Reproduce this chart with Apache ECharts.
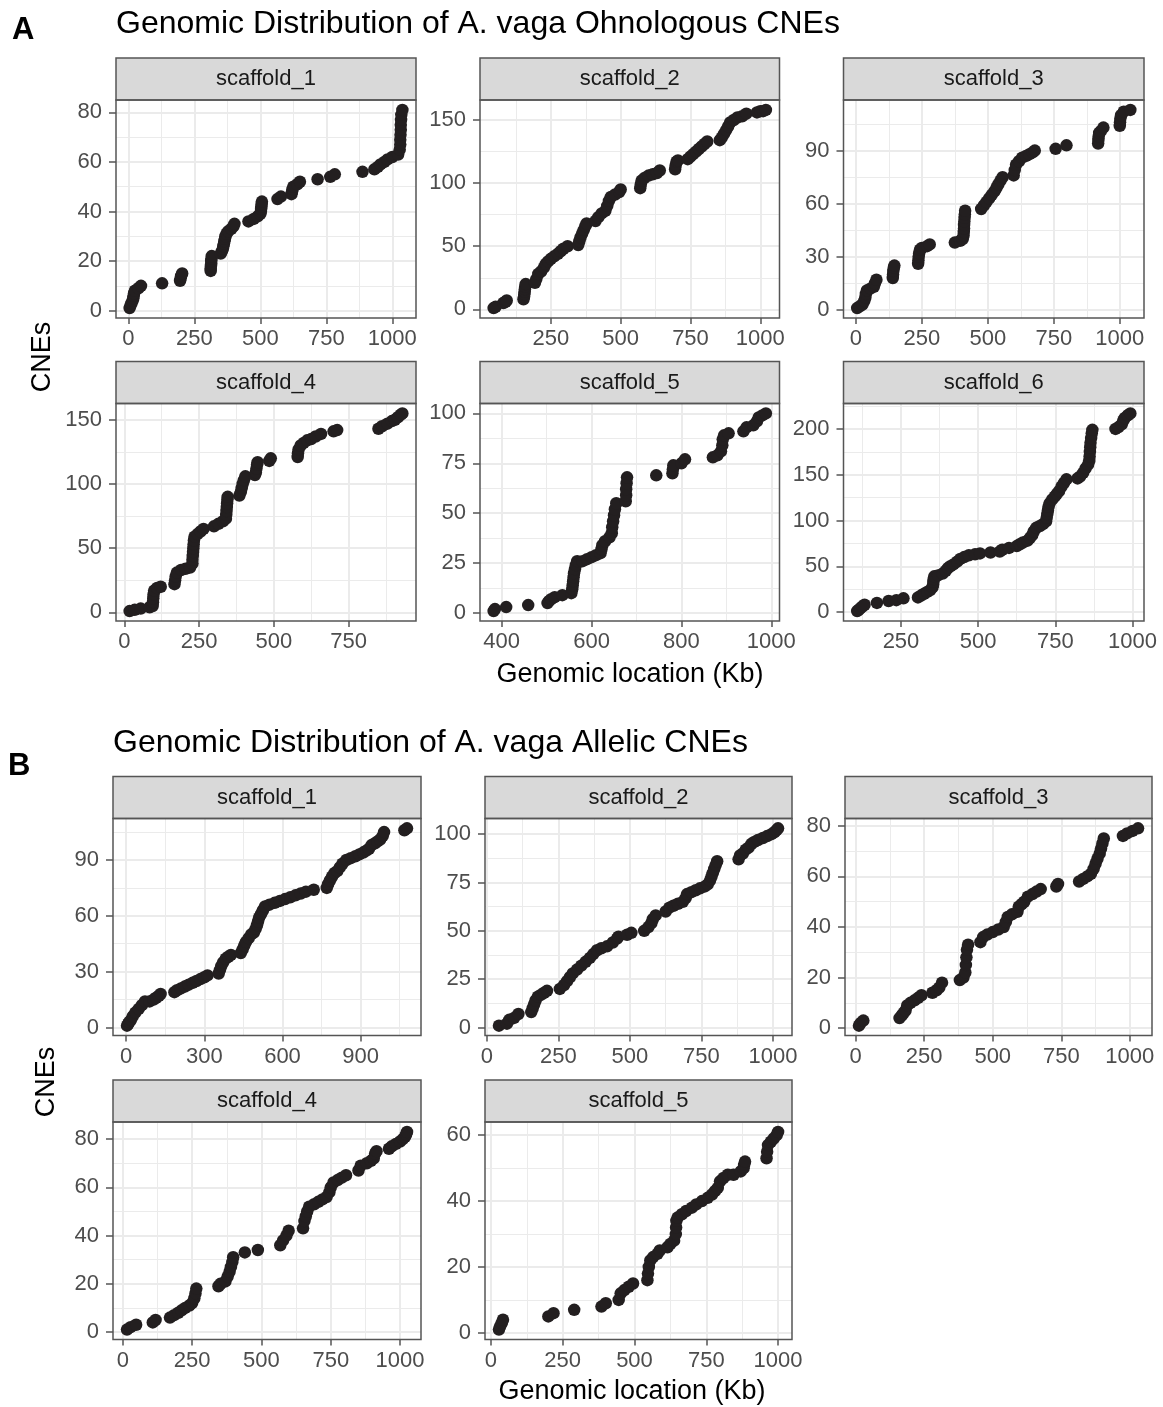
<!DOCTYPE html>
<html><head><meta charset="utf-8">
<script src="https://cdn.jsdelivr.net/npm/echarts@6/dist/echarts.min.js"></script>
<style>html,body{margin:0;padding:0;background:#fff}#c{width:1163px;height:1407px}</style>
</head><body><div id="c"></div>
<script>
// ---------------- DATA ----------------
const titleA = 'Genomic Distribution of A. vaga Ohnologous CNEs';
const titleB = 'Genomic Distribution of A. vaga Allelic CNEs';
const xTitle = 'Genomic location (Kb)';
const yTitle = 'CNEs';
const stripA = ['scaffold_1','scaffold_2','scaffold_3','scaffold_4','scaffold_5','scaffold_6'];
const stripB = ['scaffold_1','scaffold_2','scaffold_3','scaffold_4','scaffold_5'];

// [genomic location (Kb), cumulative CNE count]
const A_s1 = [[5,1],[8,2],[12,3],[16,4],[19,5],[20,6],[22,7],[25,8],[38,9],[48,10],
[128,11],[196,12],[198,13],[200,14],[204,15],
[312,16],[312,17],[313,18],[314,19],[314,20],[315,21],[316,22],
[350,23],[355,24],[358,25],[360,26],[362,27],[364,28],[366,29],[368,30],[372,31],[378,32],[390,33],[398,34],[402,35],
[455,36],[475,37],[490,38],[500,39],[502,40],[503,41],[504,42],[505,43],[506,44],
[565,45],[578,46],[618,47],[620,48],[622,49],[625,50],[640,51],[650,52],
[717,53],[765,54],[782,55],[887,56],
[932,57],[945,58],[955,59],[970,60],[982,61],[1000,62],
[1022,63],[1028,65],[1030,67],[1030,69],[1031,71],[1032,73],[1032,75],[1033,77],[1034,79],[1038,81]];
const A_s2 = [[45,1],[52,2],[80,5],[88,6],[92,7],
[152,8],[154,10],[155,12],[156,14],[157,16],[158,18],[160,20],
[193,21],[198,24],[205,28],[215,30],[225,33],[232,36],[240,38],[250,40],[262,42],[275,44],[285,46],[295,48],[310,50],
[348,51],[352,54],[356,57],[362,60],[368,63],[374,66],[378,68],
[410,70],[420,73],[432,76],[445,78],[452,82],[458,86],[465,89],[480,91],[495,93],[500,95],
[570,96],[572,99],[575,102],[585,104],[600,106],[615,107],[630,108],[640,110],
[695,111],[697,114],[700,117],[705,118],
[740,119],[750,121],[760,123],[770,125],[780,127],[790,129],[800,131],[810,133],
[855,134],[862,136],[870,139],[878,142],[885,145],[892,148],[905,150],[918,152],[935,153],[950,155],
[988,156],[1000,157],[1010,157],[1020,158]];
const A_s3 = [[5,1],[15,2],[25,3],[32,5],[36,7],[38,9],[42,11],[55,12],[68,13],[72,15],[78,17],
[140,18],[141,20],[142,22],[144,24],[146,25],
[236,26],[237,28],[238,30],[240,32],[243,34],[250,35],[270,36],[280,37],
[375,38],[395,39],[405,40],[408,42],[409,44],[410,46],[410,48],[411,50],[412,52],[413,54],[414,56],
[475,57],[485,59],[495,61],[505,63],[515,65],[525,67],[533,69],[540,71],[548,73],[556,75],
[598,76],[602,79],[607,82],[618,84],[630,86],[645,87],[658,88],[670,89],[678,90],
[757,91],[798,93],
[918,94],[919,96],[920,98],[922,100],[928,101],[938,103],
[1000,104],[1001,106],[1002,108],[1005,110],[1015,112],[1040,113]];
const A_s4 = [[18,1],[35,2],[55,3],[85,4],[95,5],[96,8],[97,11],[98,14],[100,17],[110,19],[122,20],
[168,22],[170,25],[172,28],[176,31],[190,33],[205,34],[220,35],[228,38],
[228,41],[229,44],[230,47],[231,50],[232,53],[233,56],[235,59],[245,61],[255,63],[265,65],
[300,67],[315,69],[330,71],[340,73],[341,76],[342,79],[343,82],[344,85],[345,88],[346,90],
[385,91],[390,94],[393,97],[396,100],[400,103],[405,106],
[437,107],[440,109],[442,112],[444,115],[446,117],[485,118],[490,120],
[580,121],[581,124],[583,127],[590,130],[600,132],[612,134],[625,135],[640,137],[658,139],
[700,141],[712,142],
[850,143],[862,145],[880,147],[895,149],[905,150],[915,152],[925,154],[930,155]];
const A_s5 = [[382,1],[385,2],[410,3],[459,4],[502,5],[505,6],[510,7],[518,8],[535,9],
[555,10],[557,12],[558,14],[559,16],[560,18],[561,20],[563,22],[565,24],[568,26],
[580,26],[590,27],[600,28],[610,29],
[620,30],[622,32],[624,34],[630,36],[640,38],
[645,40],[646,43],[648,46],[650,49],[652,52],[655,55],
[676,56],[677,59],[677,62],[678,65],[679,68],
[744,69],[780,70],[781,72],[782,74],[800,75],[808,77],
[870,78],[880,79],[888,81],[891,84],[892,87],[895,89],[905,90],
[938,91],[945,93],[960,94],[968,96],[972,98],[980,99],[988,100]];
const A_s6 = [[108,1],[112,2],[118,4],[125,6],[132,8],[172,10],[210,12],[235,13],[258,15],
[305,16],[315,18],[325,20],[335,22],[345,24],[352,27],[354,30],[355,33],[356,36],[358,39],
[370,40],[385,42],[395,45],[402,48],[410,50],[420,52],[432,55],[442,58],[455,60],[470,62],[490,63],[506,64],
[540,65],[570,66],[578,68],[600,70],[625,72],[635,74],[645,76],
[660,78],[668,81],[675,84],[680,88],[688,92],[700,94],[710,96],[720,99],[722,103],[724,107],[726,111],[728,115],[732,119],[740,123],[748,126],[755,129],[762,132],[770,137],[778,141],[786,145],
[822,146],[830,148],[840,152],[848,157],[856,161],[860,165],[861,170],[862,175],[863,180],[864,185],[866,190],[868,195],[870,199],
[945,200],[955,202],[965,205],[970,209],[975,212],[985,215],[993,217]];

const B_s1 = [[3,1],[8,2],[12,3],[18,4],[25,6],[35,8],[48,10],[60,12],[72,14],[90,14],[105,15],[115,16],[125,17],[132,18],
[185,19],[195,20],[210,21],[225,22],[240,23],[255,24],[270,25],[285,26],[300,27],[312,28],
[355,29],[360,31],[365,33],[372,35],[382,37],[392,38],[402,39],
[440,40],[447,42],[453,44],[460,46],[470,48],[480,50],[490,51],[497,53],[502,55],[506,57],[510,59],[518,61],[525,63],[533,65],[550,66],
[570,67],[590,68],[610,69],[630,70],[650,71],[670,72],[690,73],[720,74],
[770,75],[775,77],[782,79],[790,81],[800,83],[810,84],[820,86],[830,88],[845,90],[862,91],[880,92],[895,93],[910,94],[922,95],[932,96],[942,98],[955,99],[965,100],[975,101],[985,103],[990,105],
[1068,106],[1078,107]];
const B_s2 = [[42,1],[70,2],[78,4],[95,5],[110,7],
[155,8],[160,10],[165,12],[170,14],[178,16],[190,17],[200,18],[210,19],
[255,20],[270,22],[280,24],[290,26],[300,28],[315,30],[330,32],[345,34],[360,36],[372,38],[385,40],[400,41],[420,42],[440,44],[455,46],[460,47],
[490,48],[505,49],[550,50],[565,52],[575,54],[580,56],[590,58],
[625,60],[638,62],[652,63],[668,64],[685,65],[695,67],[700,69],[715,70],[730,71],[745,72],[762,73],
[772,74],[780,76],[785,78],[790,80],[795,82],[800,84],[805,86],
[880,87],[885,89],[895,90],[905,92],[915,93],[925,95],[935,96],[948,97],[965,98],[980,99],[995,100],[1005,101],[1012,102],[1018,103]];
const B_s3 = [[12,1],[18,2],[28,3],
[160,4],[168,5],[175,6],[182,7],[188,9],[200,10],[215,11],[228,12],[240,13],
[280,14],[295,15],[305,16],[315,18],
[380,19],[393,20],[400,22],[402,25],[404,28],[406,31],[410,33],
[455,34],[465,36],[480,37],[500,38],[520,39],[540,40],[548,42],[555,44],[570,45],[590,46],[595,48],[605,49],[615,50],[628,52],[645,53],[660,54],[675,55],
[732,56],[738,57],
[815,58],[830,59],[845,60],[858,61],[868,63],[875,65],[882,67],[890,69],[895,71],[900,73],[905,75],
[975,76],[990,77],[1010,78],[1030,79]];
const B_s4 = [[15,1],[28,2],[48,3],[108,4],[118,5],
[170,6],[185,7],[200,8],[212,9],[225,10],[240,11],[250,12],[258,14],[262,16],[265,18],
[345,19],[352,20],[370,21],[378,23],[385,25],[390,27],[395,29],[398,31],
[440,33],[487,34],
[568,36],[578,38],[590,40],[598,42],
[650,43],[655,46],[660,48],[665,50],[672,52],[690,53],[705,54],[720,55],[735,56],[745,58],[750,60],[760,62],[775,63],[790,64],[805,65],
[850,67],[858,69],[880,70],[895,71],[905,72],[910,74],[915,75],
[960,76],[970,77],[985,78],[1000,79],[1010,80],[1018,81],[1022,82],[1025,83]];
const B_s5 = [[28,1],[32,2],[38,3],[42,4],
[200,5],[218,6],[290,7],[385,8],[400,9],
[445,10],[452,12],[465,13],[480,14],[495,15],
[545,16],[547,18],[550,20],[555,22],[565,23],[580,24],[588,25],
[615,26],[625,27],[638,28],[644,30],[645,32],[646,34],[650,35],
[665,36],[680,37],[700,38],[715,39],[735,40],[755,41],[770,42],[780,43],[790,44],[798,46],[810,47],[825,48],[845,48],[870,49],[880,50],[882,51],[885,52],
[960,53],[962,55],[965,57],[975,58],[985,59],[995,60],[1000,61]];

// tick labels
const A_s1_x = [0,250,500,750,1000], A_s1_y = [0,20,40,60,80];
const A_s2_x = [250,500,750,1000],   A_s2_y = [0,50,100,150];
const A_s3_x = [0,250,500,750,1000], A_s3_y = [0,30,60,90];
const A_s4_x = [0,250,500,750],      A_s4_y = [0,50,100,150];
const A_s5_x = [400,600,800,1000],   A_s5_y = [0,25,50,75,100];
const A_s6_x = [250,500,750,1000],   A_s6_y = [0,50,100,150,200];
const B_s1_x = [0,300,600,900],      B_s1_y = [0,30,60,90];
const B_s2_x = [0,250,500,750,1000], B_s2_y = [0,25,50,75,100];
const B_s3_x = [0,250,500,750,1000], B_s3_y = [0,20,40,60,80];
const B_s4_x = [0,250,500,750,1000], B_s4_y = [0,20,40,60,80];
const B_s5_x = [0,250,500,750,1000], B_s5_y = [0,20,40,60];

// ---------------- LAYOUT ----------------
const panels = [
  {strip:stripA[0], data:A_s1, xt:A_s1_x, yt:A_s1_y, box:[116,100,300,218]},
  {strip:stripA[1], data:A_s2, xt:A_s2_x, yt:A_s2_y, box:[480,100,299.5,218]},
  {strip:stripA[2], data:A_s3, xt:A_s3_x, yt:A_s3_y, box:[843.5,100,300.5,218]},
  {strip:stripA[3], data:A_s4, xt:A_s4_x, yt:A_s4_y, box:[116,403.5,300,217.5]},
  {strip:stripA[4], data:A_s5, xt:A_s5_x, yt:A_s5_y, box:[480,403.5,299.5,217.5]},
  {strip:stripA[5], data:A_s6, xt:A_s6_x, yt:A_s6_y, box:[843.5,403.5,300.5,217.5]},
  {strip:stripB[0], data:B_s1, xt:B_s1_x, yt:B_s1_y, box:[113,818.5,308,217]},
  {strip:stripB[1], data:B_s2, xt:B_s2_x, yt:B_s2_y, box:[485,818.5,307,217]},
  {strip:stripB[2], data:B_s3, xt:B_s3_x, yt:B_s3_y, box:[845,818.5,307,217]},
  {strip:stripB[3], data:B_s4, xt:B_s4_x, yt:B_s4_y, box:[113,1122,308,217.5]},
  {strip:stripB[4], data:B_s5, xt:B_s5_x, yt:B_s5_y, box:[485,1122,307,217.5]}
];

const FONT = '"Liberation Sans", Arial, Helvetica, sans-serif';
const STRIP_H = 42;
const GRID_C = '#EBEBEB';
const BORDER_C = '#555555';

function minors(t, lo, hi){
  const step = t[1]-t[0], out=[];
  out.push(t[0]-step/2);
  t.forEach(v=>out.push(v+step/2));
  return out.filter(v=>v>lo && v<hi);
}

const grid=[], xAxis=[], yAxis=[], series=[], graphic=[];
panels.forEach((p,i)=>{
  const [l,t,w,h] = p.box;
  const xs = p.data.map(d=>d[0]), ys = p.data.map(d=>d[1]);
  const x0=Math.min(...xs), x1=Math.max(...xs), y0=Math.min(...ys), y1=Math.max(...ys);
  const xmin=x0-0.05*(x1-x0), xmax=x1+0.05*(x1-x0);
  const ymin=y0-0.05*(y1-y0), ymax=y1+0.05*(y1-y0);
  grid.push({left:l, top:t, width:w, height:h, containLabel:false, outerBoundsMode:'none', show:false});
  const axisCommon = {
    type:'value',
    gridIndex:i,
    axisLine:{show:false, onZero:false},
    splitLine:{show:false},
    minorSplitLine:{show:false},
    minorTick:{show:false}
  };
  const fmt = v => String(v);
  xAxis.push(Object.assign({}, axisCommon, {
    min:xmin, max:xmax, position:'bottom',
    axisTick:{show:true, inside:false, length:6, lineStyle:{color:BORDER_C, width:1.5}, customValues:p.xt},
    axisLabel:{show:true, customValues:p.xt, formatter:fmt, color:'#4D4D4D', fontSize:22, fontFamily:FONT, margin:10}
  }));
  yAxis.push(Object.assign({}, axisCommon, {
    min:ymin, max:ymax, position:'left',
    axisTick:{show:true, inside:false, length:7, lineStyle:{color:BORDER_C, width:1.5}, customValues:p.yt},
    axisLabel:{show:true, customValues:p.yt, formatter:fmt, color:'#4D4D4D', fontSize:22, fontFamily:FONT, margin:14}
  }));
  const ml=[];
  minors(p.xt,xmin,xmax).forEach(v=>ml.push({xAxis:v, lineStyle:{color:GRID_C,width:1,type:'solid'}}));
  minors(p.yt,ymin,ymax).forEach(v=>ml.push({yAxis:v, lineStyle:{color:GRID_C,width:1,type:'solid'}}));
  p.xt.forEach(v=>ml.push({xAxis:v, lineStyle:{color:GRID_C,width:2,type:'solid'}}));
  p.yt.forEach(v=>ml.push({yAxis:v, lineStyle:{color:GRID_C,width:2,type:'solid'}}));
  series.push({
    type:'scatter', xAxisIndex:i, yAxisIndex:i, data:[], z:1, silent:true,
    markLine:{silent:true, z:1, symbol:['none','none'], label:{show:false}, emphasis:{disabled:true}, animation:false, data:ml}
  });
  series.push({
    type:'scatter', xAxisIndex:i, yAxisIndex:i, data:p.data, symbol:'circle', symbolSize:12.5,
    itemStyle:{color:'#231F20', opacity:1}, z:3, silent:true
  });
  // strip
  graphic.push({type:'rect', silent:true, z:50, shape:{x:l, y:t-STRIP_H, width:w, height:STRIP_H},
    style:{fill:'#D9D9D9', stroke:BORDER_C, lineWidth:1.5}});
  graphic.push({type:'text', silent:true, z:51, x:l+w/2, y:t-STRIP_H/2,
    style:{text:p.strip, fill:'#1A1A1A', fontSize:22, fontFamily:FONT, align:'center', verticalAlign:'middle', textAlign:'center', textVerticalAlign:'middle'}});
  // panel border
  graphic.push({type:'rect', silent:true, z:50, shape:{x:l, y:t, width:w, height:h},
    style:{fill:null, stroke:BORDER_C, lineWidth:1.5}});
});

function txt(x,y,text,size,opts){
  return Object.assign({type:'text', silent:true, z:60, x:x, y:y,
    style:Object.assign({text:text, fill:'#000', fontSize:size, fontFamily:FONT, align:'left', verticalAlign:'middle', textAlign:'left', textVerticalAlign:'middle'}, opts && opts.style || {})},
    opts && opts.el || {});
}
graphic.push(txt(12,30,'A',31,{style:{fontWeight:'bold'}}));
graphic.push(txt(8,766,'B',31,{style:{fontWeight:'bold'}}));
graphic.push(txt(116,24,titleA,32));
graphic.push(txt(113,743,titleB,32));
graphic.push(txt(630,675,xTitle,27,{style:{align:'center',textAlign:'center'}}));
graphic.push(txt(632,1392,xTitle,27,{style:{align:'center',textAlign:'center'}}));
graphic.push(txt(43,357,yTitle,27,{style:{align:'center',textAlign:'center'},el:{rotation:Math.PI/2}}));
graphic.push(txt(47,1082,yTitle,27,{style:{align:'center',textAlign:'center'},el:{rotation:Math.PI/2}}));

const chart = echarts.init(document.getElementById('c'), null, {renderer:'canvas'});
chart.setOption({
  backgroundColor:'#ffffff',
  animation:false,
  textStyle:{fontFamily:FONT},
  grid, xAxis, yAxis, series, graphic
});
</script>
</body></html>
